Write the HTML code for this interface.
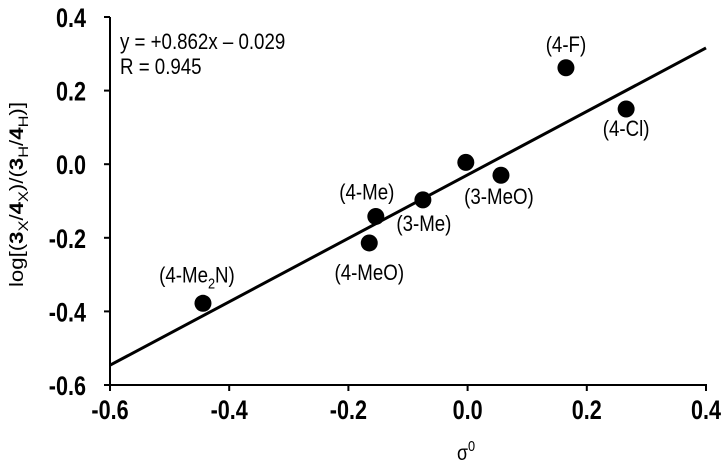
<!DOCTYPE html>
<html><head><meta charset="utf-8"><style>
body{margin:0;background:#fff}
svg text{font-family:"Liberation Sans",Arial,sans-serif;fill:#000}
.tk{font-size:27px;font-weight:bold}
.an{font-size:22px}
</style></head><body>
<svg id="chart" width="726" height="464" viewBox="0 0 726 464">
<g id="axes"></g><g id="marks"></g>
<g transform="translate(120,49) scale(0.85,1)"><text class="an" x="0" y="0">y = +0.862x – 0.029</text></g>
<g transform="translate(120,74) scale(0.85,1)"><text class="an" x="0" y="0">R = 0.945</text></g>
<g transform="translate(466,460) scale(0.85,1)"><text x="0" y="0" text-anchor="middle" style="font-size:21px">σ<tspan dy="-9" style="font-size:15px">0</tspan></text></g>
<g transform="translate(23,287) rotate(-90)"><text x="0" y="0" textLength="185" lengthAdjust="spacingAndGlyphs" style="font-size:19px">log[(<tspan font-weight="bold">3</tspan><tspan dy="5" style="font-size:14px">X</tspan><tspan dy="-5">/</tspan><tspan font-weight="bold">4</tspan><tspan dy="5" style="font-size:14px">X</tspan><tspan dy="-5">)/(</tspan><tspan font-weight="bold">3</tspan><tspan dy="5" style="font-size:14px">H</tspan><tspan dy="-5">/</tspan><tspan font-weight="bold">4</tspan><tspan dy="5" style="font-size:14px">H</tspan><tspan dy="-5">)]</tspan></text></g>
</svg>
<script>
const labels=["(4-F)","(4-Cl)","","(3-MeO)","(3-Me)","(4-Me)","(4-MeO)","(4-Me2N)"];
const xVals=[0.165,0.266,-0.003,0.056,-0.075,-0.154,-0.165,-0.444];
const yVals=[0.262,0.150,0.005,-0.030,-0.097,-0.142,-0.214,-0.378];
const labelDx=[0,0,0,-2,1,-9,0,-6];
const labelDy=[-23,20,0,22,24,-24,30,-28];
const xTicks=[-0.6,-0.4,-0.2,0.0,0.2,0.4];
const yTicks=[-0.6,-0.4,-0.2,0.0,0.2,0.4];
const slope=0.862, intercept=-0.029;
const X=v=>110+(v+0.6)*596, Y=v=>385-(v+0.6)*368;
const NS="http://www.w3.org/2000/svg";
const axes=document.getElementById('axes'), marks=document.getElementById('marks');
function mk(t,a,p){const e=document.createElementNS(NS,t);for(const k in a)e.setAttribute(k,a[k]);p.appendChild(e);return e;}
let e=mk('line',{x1:110,y1:17,x2:110,y2:385,stroke:'#000','stroke-width':2},axes);


e=mk('line',{x1:109,y1:385,x2:707,y2:385,stroke:'#000','stroke-width':2},axes);


xTicks.forEach(v=>{
 mk('line',{x1:X(v),y1:385,x2:X(v),y2:391,stroke:'#000','stroke-width':2},axes);
 const g=mk('g',{transform:`translate(${X(v)},419) scale(0.8,1)`},axes);
 const t=mk('text',{x:0,y:0,'text-anchor':'middle','class':'tk'},g);t.textContent=v.toFixed(1);
 
 
});
yTicks.forEach(v=>{
 mk('line',{x1:104,y1:Y(v),x2:110,y2:Y(v),stroke:'#000','stroke-width':2},axes);
 const g=mk('g',{transform:`translate(86,${Y(v)+10}) scale(0.8,1)`},axes);
 const t=mk('text',{x:0,y:0,'text-anchor':'end','class':'tk'},g);t.textContent=v.toFixed(1);
 
 
});
e=mk('line',{x1:X(-0.6),y1:Y(slope*-0.6+intercept),x2:X(0.4),y2:Y(slope*0.4+intercept),stroke:'#000','stroke-width':3},marks);


xVals.forEach((xv,i)=>{
 const c=mk('circle',{cx:X(xv),cy:Y(yVals[i]),r:8.5,fill:'#000'},marks);
 
 
 if(labels[i]){
  const g=mk('g',{transform:`translate(${X(xv)+labelDx[i]},${Y(yVals[i])+labelDy[i]+7}) scale(0.85,1)`},marks);
  const t=mk('text',{x:0,y:0,'text-anchor':'middle','class':'an'},g);
  if(labels[i]==="(4-Me2N)"){t.innerHTML='(4-Me<tspan dy="6" style="font-size:15px">2</tspan><tspan dy="-6">N)</tspan>';}
  else t.textContent=labels[i];
  
  
 }
});
</script>
</body></html>
